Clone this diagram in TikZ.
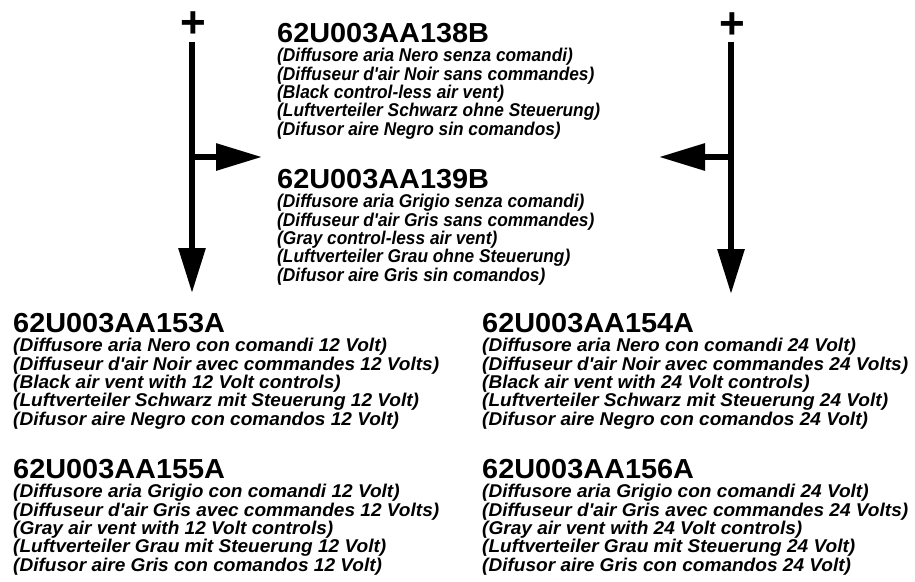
\documentclass[tikz,border=0pt]{standalone}
\usepackage{fontspec}
\setmainfont{Liberation Sans}[Ligatures=TeXOff]
\newfontfamily\titlefont{Liberation Sans}[FakeStretch=1.05, Ligatures=TeXOff]
\newfontfamily\topdescfont{Liberation Sans}[FakeStretch=0.935, Ligatures=TeXOff]
\newfontfamily\botdescfont{Liberation Sans}[FakeStretch=1.03, Ligatures=TeXOff]
\usetikzlibrary{arrows.meta}
\tikzset{
  code/.style={anchor=base west, inner sep=0pt, font=\titlefont\bfseries\fontsize{27.5}{30}\selectfont},
  topdesc/.style={anchor=base west, inner sep=0pt, font=\topdescfont\bfseries\itshape\fontsize{18.5}{18}\selectfont},
  botdesc/.style={anchor=base west, inner sep=0pt, font=\botdescfont\bfseries\itshape\fontsize{18.5}{18}\selectfont},
  plussign/.style={anchor=base, inner sep=0pt, font=\bfseries\fontsize{44}{44}\selectfont},
  feed/.style={line width=6pt, -{Triangle[length=45pt,width=26pt]}},
  branch/.style={line width=6pt, -{Triangle[length=46pt,width=26pt]}},
}
\newcommand\partblock[6]{%
  \node[code] (#1) at (#2,#3) {#4};
  \foreach \txt [count=\k from 0] in {#5}
    \node[#6] (#1-\k) at (#2,#3+19.4+18.4*\k) {\txt};
}
\begin{document}
\begin{tikzpicture}[x=1pt,y=-1pt]
\useasboundingbox (0,0) rectangle (915,581);

% plus signs
\node[plussign] (plusL) at (193,37.4) {+};
\node[plussign] (plusR) at (732,38.5) {+};

% connector coordinates
\coordinate (topL) at (192,42);
\coordinate (tipL) at (192,293);
\coordinate (jL) at (192,157);
\coordinate (tipLB) at (262,157);
\coordinate (topR) at (731,42);
\coordinate (tipR) at (731,294);
\coordinate (jR) at (731,157);
\coordinate (tipRB) at (659,157);

\draw[feed] (topL) -- (tipL);
\draw[branch] (jL) -- (tipLB);
\draw[feed] (topR) -- (tipR);
\draw[branch] (jR) -- (tipRB);

% text blocks
\partblock{b138}{277}{42.3}{62U003AA138B}{%
  (Diffusore aria Nero senza comandi),
  (Diffuseur d'air Noir sans commandes),
  (Black control-less air vent),
  (Luftverteiler Schwarz ohne Steuerung),
  (Difusor aire Negro sin comandos)}{topdesc}
\partblock{b139}{277}{188.3}{62U003AA139B}{%
  (Diffusore aria Grigio senza comandi),
  (Diffuseur d'air Gris sans commandes),
  (Gray control-less air vent),
  (Luftverteiler Grau ohne Steuerung),
  (Difusor aire Gris sin comandos)}{topdesc}
\partblock{b153}{13}{332.3}{62U003AA153A}{%
  (Diffusore aria Nero con comandi 12 Volt),
  (Diffuseur d'air Noir avec commandes 12 Volts),
  (Black air vent with 12 Volt controls),
  (Luftverteiler Schwarz mit Steuerung 12 Volt),
  (Difusor aire Negro con comandos 12 Volt)}{botdesc}
\partblock{b154}{482}{332.3}{62U003AA154A}{%
  (Diffusore aria Nero con comandi 24 Volt),
  (Diffuseur d'air Noir avec commandes 24 Volts),
  (Black air vent with 24 Volt controls),
  (Luftverteiler Schwarz mit Steuerung 24 Volt),
  (Difusor aire Negro con comandos 24 Volt)}{botdesc}
\partblock{b155}{13}{478.3}{62U003AA155A}{%
  (Diffusore aria Grigio con comandi 12 Volt),
  (Diffuseur d'air Gris avec commandes 12 Volts),
  (Gray air vent with 12 Volt controls),
  (Luftverteiler Grau mit Steuerung 12 Volt),
  (Difusor aire Gris con comandos 12 Volt)}{botdesc}
\partblock{b156}{482}{478.3}{62U003AA156A}{%
  (Diffusore aria Grigio con comandi 24 Volt),
  (Diffuseur d'air Gris avec commandes 24 Volts),
  (Gray air vent with 24 Volt controls),
  (Luftverteiler Grau mit Steuerung 24 Volt),
  (Difusor aire Gris con comandos 24 Volt)}{botdesc}
\end{tikzpicture}
\end{document}
